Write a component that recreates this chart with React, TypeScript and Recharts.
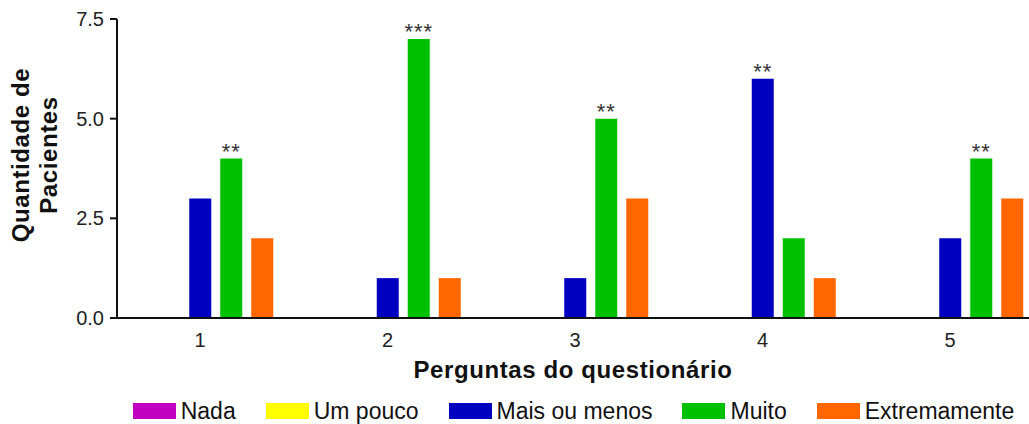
import React from 'react';
import { BarChart, Bar, XAxis, YAxis, Legend, LabelList, Label } from 'recharts';

const categories = ['1', '2', '3', '4', '5'];
const nada = [0, 0, 0, 0, 0];
const umPouco = [0, 0, 0, 0, 0];
const maisOuMenos = [3, 1, 1, 6, 2];
const muito = [4, 7, 5, 2, 4];
const extremamente = [2, 1, 3, 1, 3];
const maisSig = ['', '', '', '**', ''];
const muitoSig = ['**', '***', '**', '', '**'];
const yTicks = [0, 2.5, 5, 7.5];

const seriesNames = ['Nada', 'Um pouco', 'Mais ou menos', 'Muito', 'Extremamente'];
const colors = ['#C000C0', '#FFFF00', '#0000C0', '#00C000', '#FF6600'];

const data = categories.map((q, i) => ({
  q,
  nada: nada[i],
  umPouco: umPouco[i],
  mais: maisOuMenos[i],
  muito: muito[i],
  extremamente: extremamente[i],
  maisSig: maisSig[i],
  muitoSig: muitoSig[i],
}));

const FONT = '"Liberation Sans", Arial, sans-serif';

const renderStars = (props: any) => {
  const { x, y, width, value } = props;
  if (!value) return null;
  return (
    <text
      x={Number(x) + Number(width) / 2}
      y={Number(y)}
      textAnchor="middle"
      fontFamily={FONT}
      fontSize={22}
      letterSpacing={1}
      fill="#333"
    >
      {value}
    </text>
  );
};

const renderYLabel = (props: any) => {
  const vb = props && props.viewBox ? props.viewBox : { x: 0, y: 19, width: 117, height: 299 };
  const cy = vb.y + vb.height / 2 - 13.5;
  const common = {
    textAnchor: 'middle' as const,
    fontFamily: FONT,
    fontSize: 24,
    fontWeight: 700,
    letterSpacing: 0.6,
    fill: '#111',
  };
  return (
    <g>
      <text transform={`translate(29, ${cy}) rotate(-90)`} {...common}>
        Quantidade de
      </text>
      <text transform={`translate(57, ${cy}) rotate(-90)`} {...common}>
        Pacientes
      </text>
    </g>
  );
};

const renderLegend = (props: any) => {
  const payload = [...(props.payload || [])].sort(
    (a: any, b: any) => seriesNames.indexOf(a.value) - seriesNames.indexOf(b.value)
  );
  return (
    <div
      style={{
        display: 'flex',
        justifyContent: 'center',
        alignItems: 'center',
        height: 26,
        gap: 30,
        paddingLeft: 118,
        fontFamily: FONT,
        fontSize: 23,
        color: '#111',
      }}
    >
      {payload.map((e: any) => (
        <div key={e.value} style={{ display: 'flex', alignItems: 'center' }}>
          <span
            style={{ display: 'inline-block', width: 43, height: 16, background: e.color, marginRight: 5 }}
          />
          <span>{e.value}</span>
        </div>
      ))}
    </div>
  );
};

export default function App() {
  return (
    <div style={{ position: 'absolute', left: 0, top: 0, width: 1029, height: 424, background: '#fff' }}>
      <BarChart
        width={1029}
        height={424}
        data={data}
        margin={{ top: 19, right: 0, left: 0, bottom: 0 }}
        barSize={22}
        barGap={9}
      >
        <XAxis
          dataKey="q"
          height={80}
          padding={{ left: -10.75, right: -14.75 }}
          tickLine={false}
          tickMargin={9}
          axisLine={{ stroke: '#111', strokeWidth: 2 }}
          tick={{ fontFamily: FONT, fontSize: 20, fill: '#222' }}
          label={{
            value: 'Perguntas do questionário',
            position: 'insideBottom',
            offset: 20,
            style: { fontFamily: FONT, fontSize: 24, fontWeight: 700, letterSpacing: 0.6, fill: '#111' },
          }}
        />
        <YAxis
          width={117}
          domain={[0, 7.5]}
          ticks={yTicks}
          tickSize={7}
          tickMargin={6}
          tickFormatter={(v: number) => v.toFixed(1)}
          axisLine={{ stroke: '#111', strokeWidth: 2 }}
          tickLine={{ stroke: '#111', strokeWidth: 2 }}
          tick={{ fontFamily: FONT, fontSize: 20, fill: '#222' }}
        >
          <Label content={renderYLabel} />
        </YAxis>
        <Legend verticalAlign="bottom" content={renderLegend} />
        <Bar dataKey="nada" name={seriesNames[0]} fill={colors[0]} isAnimationActive={false} />
        <Bar dataKey="umPouco" name={seriesNames[1]} fill={colors[1]} isAnimationActive={false} />
        <Bar dataKey="mais" name={seriesNames[2]} fill={colors[2]} isAnimationActive={false}>
          <LabelList dataKey="maisSig" position="top" offset={0} content={renderStars} />
        </Bar>
        <Bar dataKey="muito" name={seriesNames[3]} fill={colors[3]} isAnimationActive={false}>
          <LabelList dataKey="muitoSig" position="top" offset={0} content={renderStars} />
        </Bar>
        <Bar dataKey="extremamente" name={seriesNames[4]} fill={colors[4]} isAnimationActive={false} />
      </BarChart>
    </div>
  );
}
